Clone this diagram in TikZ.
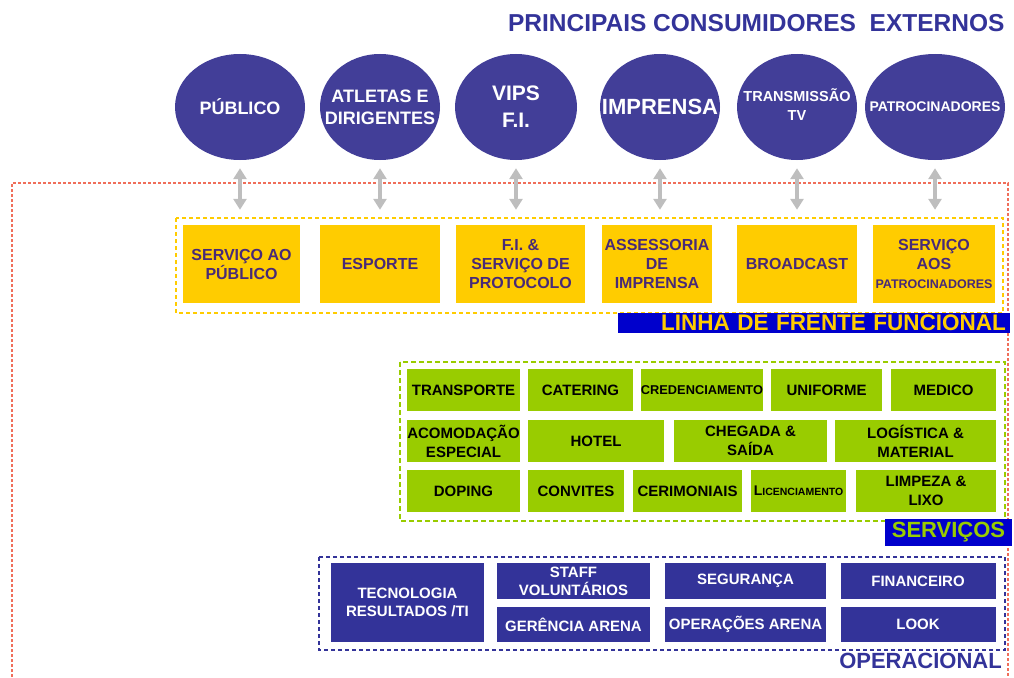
\documentclass[tikz,border=0pt]{standalone}
\usepackage{fontspec}
\setmainfont{Liberation Sans}
\usetikzlibrary{shapes.geometric,arrows.meta}
\definecolor{consblue}{RGB}{66,62,152}
\definecolor{navy}{RGB}{51,51,153}
\definecolor{frente}{RGB}{255,204,0}
\definecolor{frentetxt}{RGB}{72,42,120}
\definecolor{servgreen}{RGB}{153,204,0}
\definecolor{labelblue}{RGB}{0,0,204}
\definecolor{redline}{RGB}{240,110,90}
\definecolor{arrowgray}{RGB}{190,190,190}
\newcommand{\fs}[2]{\fontsize{#1}{#2}\selectfont}

\begin{document}
\begin{tikzpicture}[x=1pt,y=-1pt,
  consumer/.style={ellipse,fill=consblue,inner sep=0pt,minimum height=106pt},
  ctext/.style={text=white,font=\bfseries\fs{18}{22},align=center,inner sep=0pt},
  frontbox/.style={fill=frente,text=frentetxt,font=\bfseries\fs{16}{19},align=center,inner sep=0pt,minimum height=78pt},
  servbox/.style={fill=servgreen,text=black,font=\bfseries\fs{15}{19},align=center,inner sep=0pt,minimum height=42pt},
  opbox/.style={fill=navy,text=white,font=\bfseries\fs{15}{18},align=center,inner sep=0pt},
  darr/.style={arrowgray,line width=4pt,{Triangle[width=13pt,length=11pt]}-{Triangle[width=13pt,length=11pt]},shorten <=8pt,shorten >=15pt}]
\useasboundingbox (0,0) rectangle (1014,677);
\node[anchor=east,text=navy,font=\bfseries\fs{24.5}{28}] (title) at (1008,23) {PRINCIPAIS CONSUMIDORES\ \ EXTERNOS};
\node[consumer,minimum width=130pt,label={[ctext]center:PÚBLICO}] (publico) at (240,107) {};
\node[consumer,minimum width=120pt,label={[ctext]center:ATLETAS E\\DIRIGENTES}] (atletas) at (380,107) {};
\node[consumer,minimum width=122pt,label={[ctext,font=\bfseries\fs{21}{27}]center:VIPS\\F.I.}] (vips) at (516,107) {};
\node[consumer,minimum width=120pt,label={[ctext,font=\bfseries\fs{22}{26}]center:IMPRENSA}] (imprensa) at (660,107) {};
\node[consumer,minimum width=120pt,label={[ctext,font=\bfseries\fs{14.5}{19},yshift=2pt]center:TRANSMISSÃO\\TV}] (transm) at (797,107) {};
\node[consumer,minimum width=140pt,label={[ctext,font=\bfseries\fs{14}{18}]center:PATROCINADORES}] (patroc) at (935,107) {};
\draw[redline,line width=1.2pt,dash pattern=on 3pt off 2pt] (12,677) -- (12,183) -- (1008,183) -- (1008,677);
\draw[frente,line width=1.2pt,dash pattern=on 4pt off 3pt] (176,218) rectangle (1003,313);
\node[frontbox,minimum width=117pt] (sacp) at (241.5,264) {SERVIÇO AO\\PÚBLICO};
\node[frontbox,minimum width=120pt] (esporte) at (380,264) {ESPORTE};
\node[frontbox,minimum width=129pt] (protocolo) at (520.5,264) {F.I. \&\\SERVIÇO DE\\PROTOCOLO};
\node[frontbox,minimum width=110pt] (assessoria) at (657,264) {ASSESSORIA\\DE\\IMPRENSA};
\node[frontbox,minimum width=120pt] (broadcast) at (797,264) {BROADCAST};
\node[frontbox,minimum width=122pt] (spatroc) at (934,264) {SERVIÇO\\AOS\\{\fs{12.5}{15}PATROCINADORES}};
\draw[darr] (publico.south) -- (publico.south |- sacp.north);
\draw[darr] (atletas.south) -- (atletas.south |- esporte.north);
\draw[darr] (vips.south) -- (vips.south |- protocolo.north);
\draw[darr] (imprensa.south) -- (imprensa.south |- assessoria.north);
\draw[darr] (transm.south) -- (transm.south |- broadcast.north);
\draw[darr] (patroc.south) -- (patroc.south |- spatroc.north);
\node[fill=labelblue,text=frente,font=\bfseries\fs{22.5}{24},text width=384pt,align=right,inner xsep=4pt,inner ysep=0pt,minimum height=20pt] (linha) at (814,323) {LINHA DE FRENTE FUNCIONAL};
\draw[servgreen,line width=1.2pt,dash pattern=on 5pt off 3pt] (400,362) rectangle (1005,521);
\node[servbox,minimum width=113pt] (transporte) at (463.5,390) {TRANSPORTE};
\node[servbox,minimum width=105pt] (catering) at (580.5,390) {CATERING};
\node[servbox,minimum width=122pt,font=\bfseries\fs{12.8}{14}] (credenc) at (702,390) {CREDENCIAMENTO};
\node[servbox,minimum width=111pt] (uniforme) at (826.5,390) {UNIFORME};
\node[servbox,minimum width=105pt] (medico) at (943.5,390) {MEDICO};
\node[servbox,minimum width=113pt] (acomod) at (463.5,441) {ACOMODAÇÃO\\ESPECIAL};
\node[servbox,minimum width=136pt] (hotel) at (596,441) {HOTEL};
\node[servbox,minimum width=153pt] (chegada) at (750.5,441) {CHEGADA \&\\SAÍDA};
\node[servbox,minimum width=161pt] (logistica) at (915.5,441) {LOGÍSTICA \&\\MATERIAL};
\node[servbox,minimum width=113pt] (doping) at (463.5,491) {DOPING};
\node[servbox,minimum width=96pt] (convites) at (576,491) {CONVITES};
\node[servbox,minimum width=109pt] (cerimon) at (687.5,491) {CERIMONIAIS};
\node[servbox,minimum width=95pt] (licenc) at (798.5,491) {{\fs{14}{16}L}{\fs{10.5}{14}ICENCIAMENTO}};
\node[servbox,minimum width=140pt] (limpeza) at (926,491) {LIMPEZA \&\\LIXO};
\node[fill=labelblue,text=servgreen,font=\bfseries\fs{22}{24},inner sep=0pt,minimum width=127pt,minimum height=27pt] (servicos) at (948.5,532) {SERVIÇOS};
\draw[navy,line width=1.2pt,dash pattern=on 4pt off 3pt] (319,557) rectangle (1005,650);
\node[opbox,minimum width=153pt,minimum height=79pt] (tecno) at (407.5,602.5) {TECNOLOGIA\\RESULTADOS /TI};
\node[opbox,minimum width=153pt,minimum height=36pt] (staff) at (573.5,581) {STAFF\\VOLUNTÁRIOS};
\node[opbox,minimum width=161pt,minimum height=36pt] (seguranca) at (745.5,581) {SEGURANÇA};
\node[opbox,minimum width=155pt,minimum height=36pt] (financeiro) at (918,581) {FINANCEIRO};
\node[opbox,minimum width=153pt,minimum height=35pt] (gerencia) at (573.5,624.5) {GERÊNCIA ARENA};
\node[opbox,minimum width=161pt,minimum height=35pt] (operacoes) at (745.5,624.5) {OPERAÇÕES ARENA};
\node[opbox,minimum width=155pt,minimum height=35pt] (look) at (918,624.5) {LOOK};
\node[anchor=east,text=navy,font=\bfseries\fs{22}{26},inner sep=0pt] (operacional) at (1002,661) {OPERACIONAL};
\end{tikzpicture}
\end{document}
